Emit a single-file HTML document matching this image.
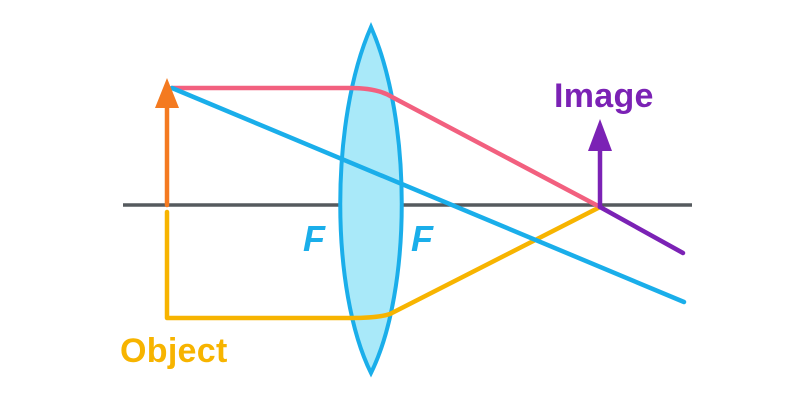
<!DOCTYPE html>
<html><head><meta charset="utf-8"><style>
html,body{margin:0;padding:0;background:#fff;}
svg{display:block}
</style></head><body>
<svg width="800" height="400" viewBox="0 0 800 400" xmlns="http://www.w3.org/2000/svg">
<line x1="123" y1="205" x2="692" y2="205" stroke="#555a5e" stroke-width="3.5"/>
<path d="M371,27 C330,120 330,290 371,373 C412,290 412,120 371,27 Z" fill="#a9e9f9" stroke="#1aaeea" stroke-width="4"/>
<g fill="none" stroke-width="4.5" stroke-linejoin="round" stroke-linecap="round">
<path d="M167,212 L167,318 L352,318 Q378,318 390,314 L600,207" stroke="#f7b400"/>
<path d="M172,88 L350,88 Q378,88 392,97 L600,207" stroke="#f2607f"/>
<line x1="172" y1="88" x2="684" y2="302" stroke="#1aaeea"/>
<path d="M600,207 L683,253" stroke="#7b22b5"/>
<line x1="167" y1="205" x2="167" y2="100" stroke="#f47a20"/>
<line x1="600" y1="207" x2="600" y2="140" stroke="#7b22b5"/>
</g>
<polygon points="167,78 155,108 179,108" fill="#f47a20"/>
<polygon points="600,119 588,151 612,151" fill="#7b22b5"/>
<g font-family="Liberation Sans, sans-serif" font-weight="bold">
<text x="554" y="107" font-size="34" fill="#7b22b5" letter-spacing="0.3">Image</text>
<text x="120" y="362" font-size="34" fill="#f7b400" letter-spacing="0.3">Object</text>
<text x="303" y="251" font-size="36" font-style="italic" fill="#1aaeea">F</text>
<text x="411" y="251" font-size="36" font-style="italic" fill="#1aaeea">F</text>
</g>
</svg>
</body></html>
